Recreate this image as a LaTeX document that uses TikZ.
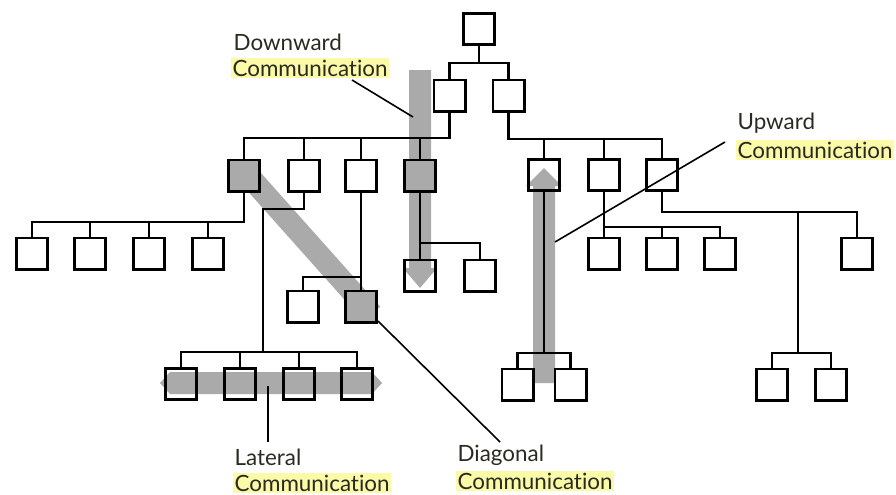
\documentclass[tikz,border=0pt]{standalone}
\usepackage{fontspec}
\setmainfont{Lato}[Ligatures=NoCommon]
\definecolor{bandgray}{HTML}{AAAAAA}
\definecolor{hly}{HTML}{FAFAA8}
\definecolor{labtext}{HTML}{2A2A20}
\begin{document}
\begin{tikzpicture}[x=0.75pt,y=-0.75pt,
  box/.style={draw=black,line width=2pt,minimum width=23.5pt,minimum height=23.5pt,inner sep=0pt,fill=none},
  sbox/.style={box,fill=bandgray},
  link/.style={line width=2pt,black},
  band/.style={fill=bandgray,draw=none},
  pointer/.style={line width=1.2pt,black},
  lab/.style={font=\fontsize{16.8}{19}\selectfont,text=labtext,inner sep=1pt,anchor=west},
  hl/.style={lab,fill=hly}]
\useasboundingbox (0,0) rectangle (896,494);

% grey communication bands
\fill[band] (409,70) -- (431,70) -- (431,268) -- (437,268) -- (420,288) -- (403,268) -- (409,268) -- cycle;
\fill[band] (533,383) -- (555,383) -- (555,186) -- (562,186) -- (544,168) -- (526,186) -- (533,186) -- cycle;
\draw[bandgray,line width=16.5pt] (240,166) -- (372,314);
\fill[band] (160,383) -- (170,372) -- (372,372) -- (382,383) -- (372,394) -- (170,394) -- cycle;

% boxes
\node[box] (t) at (479,29) {};
\node[box] (a) at (449.5,95.5) {};
\node[box] (b) at (508.5,95.5) {};
\node[sbox] (c1) at (244,175.5) {};
\node[box] (c2) at (304,175.5) {};
\node[box] (c3) at (361,175.5) {};
\node[sbox] (c4) at (420,175.5) {};
\node[box] (d1) at (544,175) {};
\node[box] (d2) at (604,175) {};
\node[box] (d3) at (662,175) {};
\node[box] (e1) at (32,253.5) {};
\node[box] (e2) at (90,253.5) {};
\node[box] (e3) at (149,253.5) {};
\node[box] (e4) at (208,253.5) {};
\node[box] (f1) at (303,306.5) {};
\node[sbox] (f2) at (361,306.5) {};
\node[box] (g1) at (420,275.5) {};
\node[box] (g2) at (480,275.5) {};
\node[box] (h1) at (181,384) {};
\node[box] (h2) at (240,384) {};
\node[box] (h3) at (299,384) {};
\node[box] (h4) at (357,384) {};
\node[box] (i1) at (517.5,384.5) {};
\node[box] (i2) at (570.5,384.5) {};
\node[box] (j1) at (604,253.5) {};
\node[box] (j2) at (662,253.5) {};
\node[box] (j3) at (720,253.5) {};
\node[box] (k) at (857,253.5) {};
\node[box] (m1) at (772,384.5) {};
\node[box] (m2) at (831,384.5) {};

% connectors
\draw[link] (t.south) -- (t.south |- 0,63);
\draw[link] (a.north) -- (a.north |- 0,63) -- (b.north |- 0,63) -- (b.north);

\draw[link] (a.south) |- (c1.north |- 0,138) -- (c1.north);
\foreach \n in {c2,c3,c4} \draw[link] (\n.north) -- (\n.north |- 0,138);

\draw[link] (b.south) |- (d3.north |- 0,139) -- (d3.north);
\foreach \n in {d1,d2} \draw[link] (\n.north) -- (\n.north |- 0,139);

\draw[link] (c1.south) |- (e1.north |- 0,222) -- (e1.north);
\foreach \n in {e2,e3,e4} \draw[link] (\n.north) -- (\n.north |- 0,222);

\coordinate (lj) at (263,209);
\draw[link] (c2.south) |- (lj) -- (lj |- 0,352);
\draw[link] (h1.north) -- (h1.north |- 0,352) -- (h4.north |- 0,352) -- (h4.north);
\foreach \n in {h2,h3} \draw[link] (\n.north) -- (\n.north |- 0,352);

\draw[link] (c3.south) -- (f2.north);
\draw[link] (c3.south |- 0,277) -| (f1.north);

\draw[link] (c4.south) -- (g1.north);
\draw[link] (c4.south |- 0,243) -| (g2.north);

\draw[link] (d1.south) -- (d1.south |- 0,353);
\draw[link] (i1.north) -- (i1.north |- 0,353) -- (i2.north |- 0,353) -- (i2.north);

\draw[link] (d2.south) -- (j1.north);
\draw[link] (d2.south |- 0,227) -| (j3.north);
\draw[link] (j2.north) -- (j2.north |- 0,227);

\draw[link] (d3.south) |- (k.north |- 0,212) -- (k.north);
\coordinate (rj) at (798,212);
\draw[link] (rj) -- (rj |- 0,353);
\draw[link] (m1.north) -- (m1.north |- 0,353) -- (m2.north |- 0,353) -- (m2.north);

% labels
\node[lab] (dw1) at (232,42) {Downward};
\node[hl] (dw2) at (231,68) {Communication};
\node[lab] (up1) at (736,123) {Upward};
\node[hl] (up2) at (736,150) {Communication};
\node[lab] (la1) at (233,457) {Lateral};
\node[hl] (la2) at (233,483) {Communication};
\node[lab] (di1) at (456,455) {Diagonal};
\node[hl] (di2) at (456,481) {Communication};

% pointers
\coordinate (dp1) at (352,80);  \coordinate (dp2) at (413,117);
\coordinate (upa) at (725,142); \coordinate (upb) at (555,242);
\coordinate (laa) at (268,386); \coordinate (lab2) at (268,442);
\coordinate (dia) at (378,321); \coordinate (dib) at (500,442);
\draw[pointer] (dp1) -- (dp2);
\draw[pointer] (upa) -- (upb);
\draw[pointer] (laa) -- (lab2);
\draw[pointer] (dia) -- (dib);
\end{tikzpicture}
\end{document}
